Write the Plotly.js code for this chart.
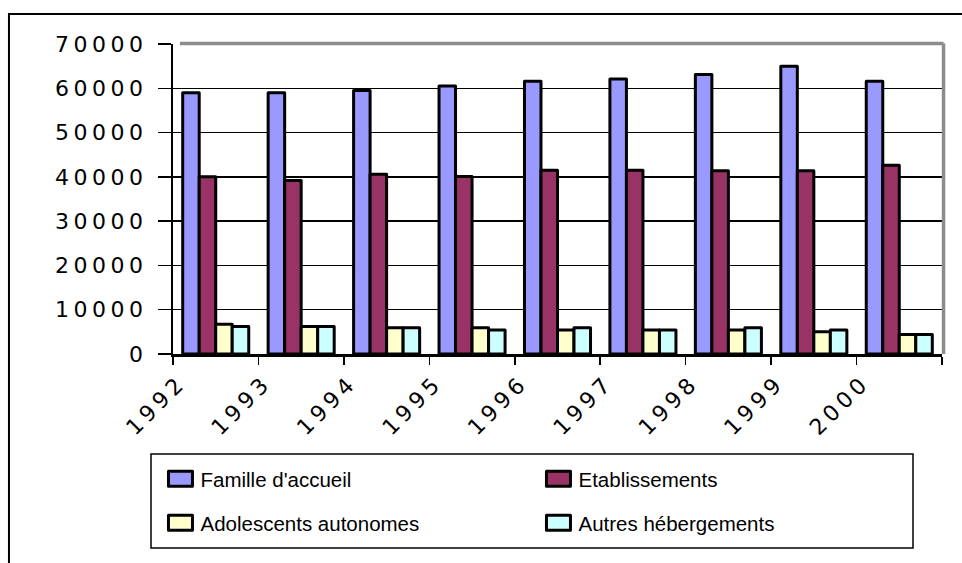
<!DOCTYPE html>
<html><head><meta charset="utf-8">
<script src="https://cdn.plot.ly/plotly-3.0.1.min.js"></script>
<style>
body{margin:0;background:#fff}
#chart{width:962px;height:563px}
.xtick text, .ytick text { letter-spacing: 4.5px; }
.legendpoints path { transform: translate(20px, 0px) scale(2, 1.25); vector-effect: non-scaling-stroke; stroke-width: 3px !important; stroke-linejoin: round; }
.bars path { stroke-linejoin: round; }
</style></head><body><div id="chart"></div>
<script>
const years = ['1992','1993','1994','1995','1996','1997','1998','1999','2000'];
const famille = [59000, 59000, 59500, 60500, 61600, 62100, 63100, 65000, 61600];
const etablissements = [40000, 39200, 40600, 40100, 41500, 41500, 41400, 41400, 42600];
const adolescents = [6700, 6200, 5900, 5900, 5400, 5400, 5400, 5000, 4400];
const autres = [6200, 6200, 5900, 5400, 5900, 5400, 5900, 5400, 4400];
const seriesNames = ["Famille d'accueil", "Etablissements", "Adolescents autonomes", "Autres hébergements"];
const seriesColors = ['#9999FF', '#993366', '#FFFFCC', '#CCFFFF'];
const seriesValues = [famille, etablissements, adolescents, autres];
const legendIds = ['legend', 'legend', 'legend2', 'legend2'];

const traces = seriesValues.map((vals, i) => ({
  type: 'bar', x: years, y: vals, name: seriesNames[i], legend: legendIds[i],
  marker: {color: seriesColors[i], line: {color: '#000', width: 3}},
  hoverinfo: 'x+y+name'
}));

const axisFont = {family: 'DejaVu Sans', size: 22, color: '#000'};
const legFont = {family: 'Liberation Sans, Arial', size: 20.5, color: '#000'};
const layout = {
  width: 962, height: 563,
  margin: {l: 173, r: 20, t: 44, b: 209},
  paper_bgcolor: '#fff', plot_bgcolor: '#fff',
  barmode: 'group', bargap: 0.227, bargroupgap: 0,
  showlegend: true,
  xaxis: {
    type: 'category', tickson: 'boundaries', ticks: 'outside', ticklen: 8, tickwidth: 1.5, tickcolor: '#000',
    showline: true, linewidth: 3, linecolor: '#000', showgrid: false, zeroline: false,
    tickangle: -45, ticklabelshift: -36, ticklabelstandoff: 4, tickfont: axisFont
  },
  yaxis: {
    range: [0, 70000], dtick: 10000, tickformat: 'd', ticks: 'outside', ticklen: 13, tickwidth: 1.5, tickcolor: '#000',
    showline: true, linewidth: 2, linecolor: '#000', showgrid: true, gridcolor: '#000', gridwidth: 1.5,
    zeroline: false, ticklabelstandoff: 6, tickfont: axisFont
  },
  legend: {orientation: 'h', x: -0.0163, xanchor: 'left', y: -0.3387, yanchor: 'top',
           entrywidth: 333, bgcolor: 'rgba(0,0,0,0)', borderwidth: 0, font: legFont, traceorder: 'normal'},
  legend2: {orientation: 'h', x: -0.0163, xanchor: 'left', y: -0.4806, yanchor: 'top',
           entrywidth: 333, bgcolor: 'rgba(0,0,0,0)', borderwidth: 0, font: legFont, traceorder: 'normal'},
  shapes: [
    {type: 'rect', xref: 'paper', yref: 'paper', x0: -0.2133, x1: 1.04, y0: -0.70, y1: 1.0968, line: {color: '#000', width: 2}},
    {type: 'rect', xref: 'paper', yref: 'paper', x0: -0.0286, x1: 0.9623, y0: -0.6258, y1: -0.3226, line: {color: '#000', width: 1.5}},
    {type: 'line', xref: 'paper', yref: 'paper', x0: 0.009, x1: 1.002, y0: 1.002, y1: 1.002, line: {color: '#8c8c8c', width: 3.5}},
    {type: 'line', xref: 'paper', yref: 'paper', x0: 1.002, x1: 1.002, y0: 0, y1: 1.002, line: {color: '#8c8c8c', width: 3.5}}
  ]
};
Plotly.newPlot('chart', traces, layout, {displayModeBar: false, staticPlot: true});
</script></body></html>
